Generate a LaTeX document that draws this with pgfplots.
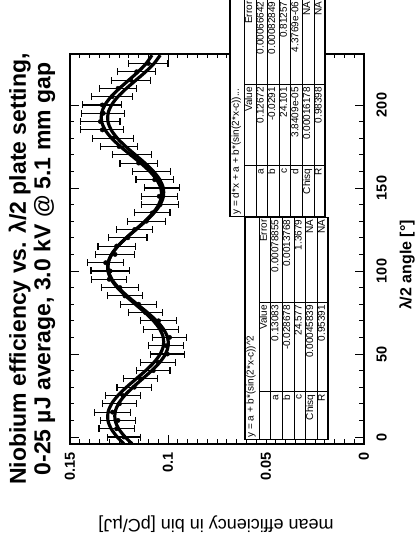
\documentclass[border=0pt]{standalone}
\usepackage{fontspec}
\setmainfont{Liberation Sans}
\usepackage{pgfplots}
\pgfplotsset{compat=1.18}
\usepackage{pgfplotstable}
\usepackage{array}

% measured efficiency per lambda/2 angle bin
\pgfplotstableread{
ang eff err
0 0.1225 0.0085
5 0.1262 0.0090
10 0.1255 0.0088
15 0.1283 0.0092
20 0.1248 0.0087
25 0.1230 0.0090
30 0.1172 0.0088
35 0.1140 0.0086
40 0.1075 0.0085
45 0.1050 0.0090
50 0.1003 0.0087
55 0.1010 0.0089
60 0.0992 0.0085
65 0.1035 0.0088
70 0.1048 0.0090
75 0.1115 0.0087
80 0.1150 0.0092
85 0.1220 0.0090
90 0.1245 0.0095
95 0.1300 0.0090
100 0.1295 0.0098
105 0.1318 0.0092
110 0.1270 0.0100
115 0.1262 0.0095
120 0.1205 0.0098
125 0.1170 0.0092
130 0.1110 0.0098
135 0.1080 0.0090
140 0.1040 0.0095
145 0.1045 0.0092
150 0.1030 0.0090
155 0.1068 0.0095
160 0.1085 0.0098
165 0.1150 0.0095
170 0.1185 0.0100
175 0.1250 0.0095
180 0.1280 0.0105
185 0.1335 0.0110
190 0.1345 0.0100
195 0.1330 0.0110
200 0.1335 0.0100
205 0.1285 0.0105
210 0.1255 0.0095
215 0.1190 0.0100
220 0.1160 0.0098
225 0.1100 0.0100
}\measured

% fit y = a + b*(sin(2*x-c))^2, tabulated
\pgfplotstableread{
ang eff
-4 0.12252
0 0.12587
5 0.12901
10 0.13065
15 0.13057
20 0.12880
25 0.12554
30 0.12120
35 0.11628
40 0.11139
45 0.10711
50 0.10397
55 0.10234
60 0.10241
65 0.10418
70 0.10744
75 0.11178
80 0.11671
85 0.12159
90 0.12587
95 0.12901
100 0.13065
105 0.13057
110 0.12880
115 0.12554
120 0.12120
125 0.11628
130 0.11139
135 0.10711
140 0.10397
145 0.10234
150 0.10241
155 0.10418
160 0.10744
165 0.11178
170 0.11671
175 0.12159
180 0.12587
185 0.12901
190 0.13065
195 0.13057
200 0.12880
205 0.12554
210 0.12120
215 0.11628
220 0.11139
225 0.10711
230 0.10397
}\fitA

% fit y = d*x + a + b*(sin(2*x-c))^2, tabulated
\pgfplotstableread{
ang eff
-4 0.11835
0 0.12187
5 0.12518
10 0.12696
15 0.12699
20 0.12531
25 0.12213
30 0.11787
35 0.11306
40 0.10830
45 0.10420
50 0.10127
55 0.09988
60 0.10023
65 0.10230
70 0.10586
75 0.11051
80 0.11570
85 0.12084
90 0.12532
95 0.12864
100 0.13041
105 0.13045
110 0.12876
115 0.12559
120 0.12132
125 0.11651
130 0.11176
135 0.10766
140 0.10472
145 0.10334
150 0.10369
155 0.10576
160 0.10931
165 0.11396
170 0.11915
175 0.12429
180 0.12878
185 0.13210
190 0.13387
195 0.13390
200 0.13222
205 0.12904
210 0.12478
215 0.11997
220 0.11521
225 0.11112
230 0.10818
}\fitB

\newcolumntype{R}[1]{>{\raggedleft\arraybackslash}p{#1}}
\newcommand\rowstrut{\rule[-3.5pt]{0pt}{11pt}}

\begin{document}
\begin{tikzpicture}[x=1pt,y=1pt]
\useasboundingbox (0,0) rectangle (417,541);
\begin{axis}[
  at={(70pt,97pt)}, anchor=south west,
  width=294pt, height=390pt, scale only axis,
  x dir=reverse,
  xmin=0, xmax=0.15, ymin=-4.2, ymax=230.7,
  xtick={0,0.05,0.1,0.15},
  xticklabels={0,0.05,0.1,0.15},
  scaled x ticks=false,
  minor x tick num=9,
  ytick={0,50,100,150,200},
  minor y tick num=4,
  tick align=inside,
  major tick length=9pt, minor tick length=4.5pt,
  every tick/.style={black, line width=0.9pt},
  axis line style={line width=1.1pt},
  yticklabel pos=right,
  xticklabel style={rotate=90, anchor=east, font=\bfseries\fontsize{14.5}{15}\selectfont},
  yticklabel style={rotate=90, anchor=north, font=\bfseries\fontsize{14.5}{15}\selectfont},
  xticklabel shift=5pt, yticklabel shift=9pt,
  /pgf/number format/assume math mode=true,
  clip=false,
]
\addplot[black, line width=3.2pt, smooth] table[x=eff, y=ang] {\fitA};
\addplot[black, line width=3.2pt, smooth] table[x=eff, y=ang] {\fitB};
\addplot[black, only marks, mark=*, mark size=2.2pt,
  error bars/.cd, x dir=both, x explicit,
  error bar style={line width=1.1pt},
  error mark options={rotate=90, mark size=3.5pt, line width=1.1pt}]
  table[x=eff, y=ang, x error=err] {\measured};
\end{axis}

% fit parameter tables
\node[rotate=90, inner sep=0pt, draw, line width=1.8pt, fill=white] at (277.5,433) {%
\fontsize{10}{11}\selectfont\setlength{\tabcolsep}{2pt}%
\begin{tabular}{R{46pt}!{\vrule width 1.6pt}R{76pt}|R{81pt}}
\multicolumn{3}{l}{\rule[-5pt]{0pt}{14pt}y = d*x + a + b*(sin(2*x-c))...}\\ \hline
\rowstrut & Value & Error\\ \hline
\rowstrut a & 0.12672 & 0.00066642\\ \hline
\rowstrut b & -0.0291 & 0.00082849\\ \hline
\rowstrut c & 24.101 & 0.81257\\ \hline
\rowstrut d & 3.8409e-05 & 4.3769e-06\\ \hline
\rowstrut Chisq & 0.00016178 & NA\\ \hline
\rowstrut R & 0.98398 & NA
\end{tabular}};

\node[rotate=90, inner sep=0pt, draw, line width=1.8pt, fill=white] at (286.5,212.5) {%
\fontsize{10}{11}\selectfont\setlength{\tabcolsep}{2pt}%
\begin{tabular}{R{43pt}!{\vrule width 1.6pt}R{84pt}|R{81pt}}
\multicolumn{3}{l}{\rule[-5pt]{0pt}{14pt}y = a + b*(sin(2*x-c))\^{}2}\\ \hline
\rowstrut & Value & Error\\ \hline
\rowstrut a & 0.13083 & 0.00078855\\ \hline
\rowstrut b & -0.028678 & 0.0013768\\ \hline
\rowstrut c & 24.577 & 1.3679\\ \hline
\rowstrut Chisq & 0.00045839 & NA\\ \hline
\rowstrut R & 0.95391 & NA
\end{tabular}};

% titles and axis labels
\node[rotate=90, align=center, font=\bfseries\fontsize{23}{24.5}\selectfont] at (32,272)
  {Niobium efficiency vs. λ/2 plate setting,\\0-25 µJ average, 3.0 kV @ 5.1 mm gap};
\node[rotate=90, font=\bfseries\fontsize{16}{16}\selectfont] at (407,276) {λ/2 angle [°]};
\node[rotate=180, font=\fontsize{18}{18}\selectfont] at (216,17) {mean efficiency in bin [pC/µJ]};
\end{tikzpicture}
\end{document}
